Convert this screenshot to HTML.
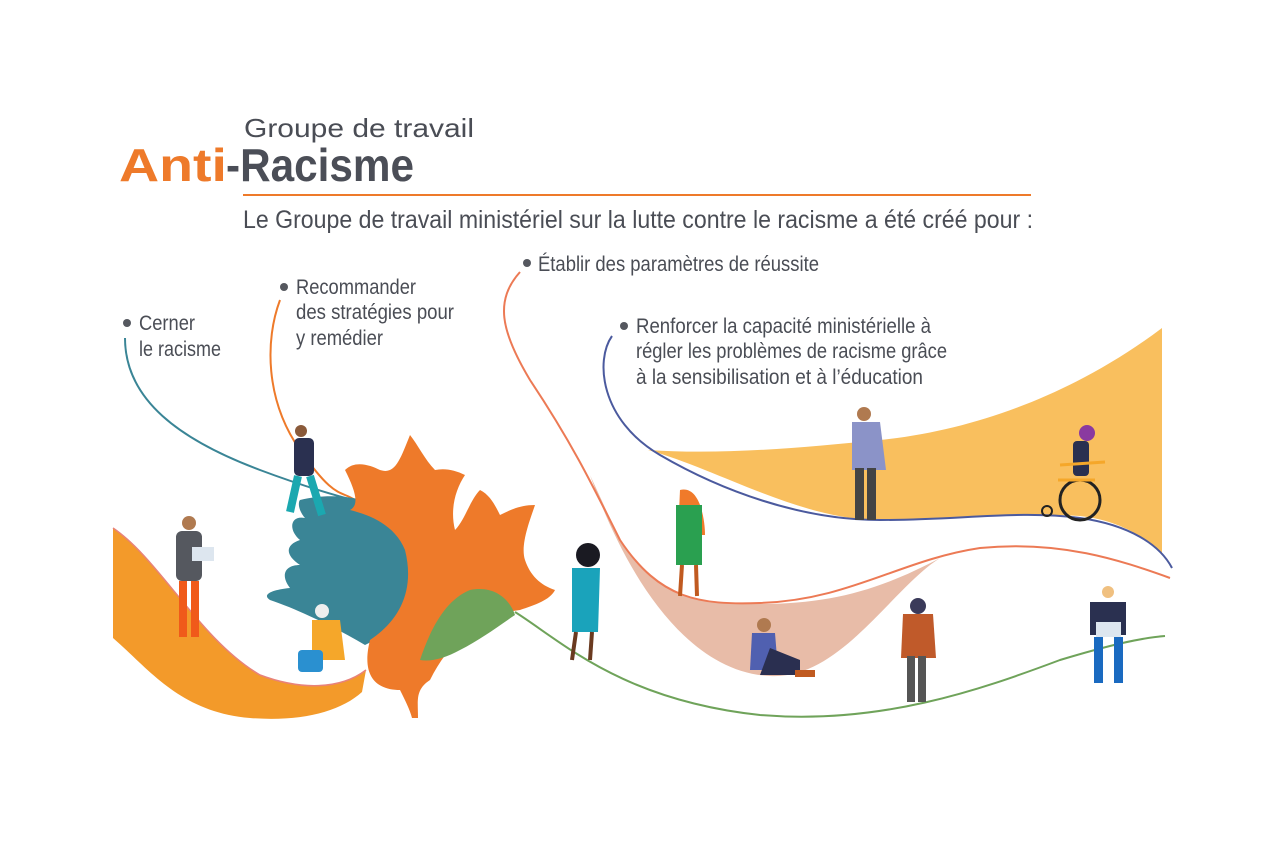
<!DOCTYPE html>
<html><head><meta charset="utf-8"><style>
html,body{margin:0;padding:0;background:#fff;}
svg{display:block;}
text{font-family:"Liberation Sans Narrow","Liberation Sans",sans-serif;fill:#4a4d55;}
</style></head><body>
<svg width="1276" height="864" viewBox="0 0 1276 864" xmlns="http://www.w3.org/2000/svg">
<rect width="1276" height="864" fill="#fff"/>
<!-- Title -->
<text x="244" y="137" font-size="26" textLength="230" lengthAdjust="spacingAndGlyphs" style="font-family:'Liberation Sans',sans-serif" fill="#5a5d64">Groupe de travail</text>
<text x="119" y="181" font-size="46" font-weight="bold" textLength="108" lengthAdjust="spacingAndGlyphs" style="font-family:'Liberation Sans',sans-serif;fill:#ee7a2a">Anti</text>
<text x="226" y="181" font-size="46" font-weight="bold" textLength="188" lengthAdjust="spacingAndGlyphs" style="font-family:'Liberation Sans',sans-serif;fill:#4b4e57">-Racisme</text>
<line x1="243" y1="195" x2="1031" y2="195" stroke="#ee7a2a" stroke-width="2"/>
<text x="243" y="228" font-size="25" textLength="790" lengthAdjust="spacingAndGlyphs">Le Groupe de travail ministériel sur la lutte contre le racisme a été créé pour :</text>

<!-- bullets -->
<g fill="#55585f"><circle cx="127" cy="323" r="4"/><circle cx="284" cy="287" r="4"/><circle cx="527" cy="263" r="4"/><circle cx="624" cy="326" r="4"/></g>
<g font-size="21">
<text x="139" y="330" textLength="56" lengthAdjust="spacingAndGlyphs">Cerner</text>
<text x="139" y="356" textLength="82" lengthAdjust="spacingAndGlyphs">le racisme</text>
<text x="296" y="294" textLength="120" lengthAdjust="spacingAndGlyphs">Recommander</text>
<text x="296" y="319" textLength="158" lengthAdjust="spacingAndGlyphs">des stratégies pour</text>
<text x="296" y="345" textLength="87" lengthAdjust="spacingAndGlyphs">y remédier</text>
<text x="538" y="271" textLength="281" lengthAdjust="spacingAndGlyphs">Établir des paramètres de réussite</text>
<text x="636" y="333" textLength="295" lengthAdjust="spacingAndGlyphs">Renforcer la capacité ministérielle à</text>
<text x="636" y="358" textLength="311" lengthAdjust="spacingAndGlyphs">régler les problèmes de racisme grâce</text>
<text x="636" y="384" textLength="287" lengthAdjust="spacingAndGlyphs">à la sensibilisation et à l’éducation</text>
</g>

<!-- yellow region -->
<path d="M648,450 C720,470 800,520 880,520 C960,520 1020,512 1080,516 C1120,520 1150,540 1162,555 L1162,328 C1080,390 980,430 880,440 C800,448 720,455 648,450 Z" fill="#f9bf5e"/>
<!-- pink region -->
<path d="M590,475 C620,560 680,672 770,676 C840,680 890,590 940,558 C880,590 830,604 760,604 C690,605 650,590 620,540 Z" fill="#e8bca8"/>
<!-- left orange band -->
<path d="M113,528 C160,560 200,640 260,675 C300,690 340,690 366,670 L362,692 C340,712 300,722 250,718 C180,712 150,670 113,638 Z" fill="#f39a2a"/>
<path d="M113,528 C160,560 200,640 260,675 C300,690 340,690 366,670" fill="none" stroke="#e8827a" stroke-width="1.5"/>

<!-- curves -->
<path d="M125,338 C125,400 180,440 260,470 S 380,505 400,515" fill="none" stroke="#3a8596" stroke-width="2"/>
<path d="M280,300 C265,340 265,400 300,450 S 340,490 355,500" fill="none" stroke="#ee7a2a" stroke-width="2"/>
<path d="M520,272 C495,300 500,330 530,380 C570,440 590,480 620,540 C660,600 700,605 760,603 C850,600 900,560 980,548 C1060,540 1120,560 1170,578" fill="none" stroke="#ec7a55" stroke-width="2"/>
<path d="M612,336 C595,360 600,420 660,455 C720,490 800,520 880,520 C960,520 1020,510 1080,518 C1130,525 1160,545 1172,568" fill="none" stroke="#4b5a9e" stroke-width="2"/>
<path d="M515,612 C560,640 620,700 760,715 C880,725 980,690 1060,660 C1110,645 1140,638 1165,636" fill="none" stroke="#6fa35a" stroke-width="2"/>

<!-- teal leaf -->
<path d="M300,500 C340,490 390,500 410,530 C420,560 415,600 395,630 L365,645 C340,630 300,610 270,600 C262,595 270,590 290,588 C280,575 285,565 300,565 C285,555 285,545 300,540 C288,530 290,515 305,518 C298,510 298,502 300,500 Z" fill="#3a8596"/>
<!-- orange maple leaf -->
<path d="M410,435 C400,460 395,475 380,470 C370,465 355,460 345,470 C355,490 360,505 350,510 C370,515 395,525 405,550 C415,590 400,620 370,640 C360,680 380,690 400,690 C405,700 410,710 412,718 L418,718 C418,700 415,690 430,680 C450,640 480,615 520,610 C535,605 550,600 555,590 C540,585 530,575 525,560 C520,545 530,520 535,505 C520,505 510,510 500,515 C495,505 490,495 480,490 C470,500 465,520 455,530 C450,510 455,490 465,475 C455,470 445,468 435,470 C425,460 418,445 410,435 Z" fill="#ee7a2a"/>
<!-- green lobe -->
<path d="M420,660 C430,630 445,600 470,590 C495,585 510,600 515,615 C500,625 480,640 460,650 C445,658 432,662 420,660 Z" fill="#6fa35a"/>

<!-- people (simple) -->
<g>
 <!-- man with laptop left -->
 <circle cx="189" cy="523" r="7" fill="#b07a50"/><rect x="176" y="531" width="26" height="50" rx="6" fill="#55585f"/><rect x="179" y="581" width="8" height="56" fill="#f05a1a"/><rect x="191" y="581" width="8" height="56" fill="#f05a1a"/><rect x="192" y="547" width="22" height="14" fill="#dde6ef"/>
 <!-- walking man -->
 <circle cx="301" cy="431" r="6" fill="#8a5a3a"/><rect x="294" y="438" width="20" height="38" rx="5" fill="#2a3050"/><path d="M298,476 L290,512 M310,476 L322,515" stroke="#1ba8b0" stroke-width="8"/>
 <!-- grandma sitting -->
 <circle cx="322" cy="611" r="7" fill="#eee"/><path d="M312,620 L340,620 L345,660 L312,660 Z" fill="#f5a72a"/><rect x="298" y="650" width="25" height="22" rx="4" fill="#2a90d0"/>
 <!-- woman teal dress -->
 <circle cx="588" cy="555" r="12" fill="#1a1a22"/><path d="M572,568 L600,568 L598,632 L572,632 Z" fill="#1aa3bb"/><path d="M576,632 L572,660 M592,632 L590,660" stroke="#6a3a20" stroke-width="4"/>
 <!-- woman green -->
 <path d="M680,490 C700,485 705,520 705,535 L678,535 Z" fill="#f07a2a"/><path d="M676,505 L702,505 L702,565 L676,565 Z" fill="#2aa050"/><path d="M682,565 L680,596 M696,565 L697,596" stroke="#c05a20" stroke-width="4"/>
 <!-- man hoodie -->
 <circle cx="864" cy="414" r="7" fill="#b07a50"/><path d="M852,422 L880,422 L886,470 L852,470 Z" fill="#8b93c8"/><rect x="855" y="468" width="9" height="52" fill="#444"/><rect x="867" y="468" width="9" height="52" fill="#444"/>
 <!-- wheelchair -->
 <circle cx="1087" cy="433" r="8" fill="#8a3aa0"/><rect x="1073" y="441" width="16" height="35" rx="4" fill="#2a3050"/><circle cx="1080" cy="500" r="20" fill="none" stroke="#222" stroke-width="3"/><circle cx="1047" cy="511" r="5" fill="none" stroke="#222" stroke-width="2"/><path d="M1060,465 L1105,462 M1058,480 L1095,480" stroke="#f5a72a" stroke-width="3"/>
 <!-- sitting woman -->
 <circle cx="764" cy="625" r="7" fill="#b07a50"/><path d="M752,633 L775,633 L778,670 L750,670 Z" fill="#5060b0"/><path d="M770,648 L800,660 L800,675 L760,675 Z" fill="#2a2f50"/><rect x="795" y="670" width="20" height="7" fill="#c05a20"/>
 <!-- hijab woman -->
 <circle cx="918" cy="606" r="8" fill="#3a3a5a"/><path d="M903,614 L933,614 L936,658 L901,658 Z" fill="#c05a2a"/><rect x="907" y="656" width="8" height="46" fill="#555"/><rect x="918" y="656" width="8" height="46" fill="#555"/>
 <!-- man laptop right -->
 <circle cx="1108" cy="592" r="6" fill="#f0c080"/><path d="M1090,602 L1126,602 L1126,635 L1090,635 Z" fill="#2a3050"/><rect x="1096" y="622" width="25" height="15" fill="#dde6ef"/><rect x="1094" y="637" width="9" height="46" fill="#1a6ac0"/><rect x="1114" y="637" width="9" height="46" fill="#1a6ac0"/>
</g>
</svg>
</body></html>
